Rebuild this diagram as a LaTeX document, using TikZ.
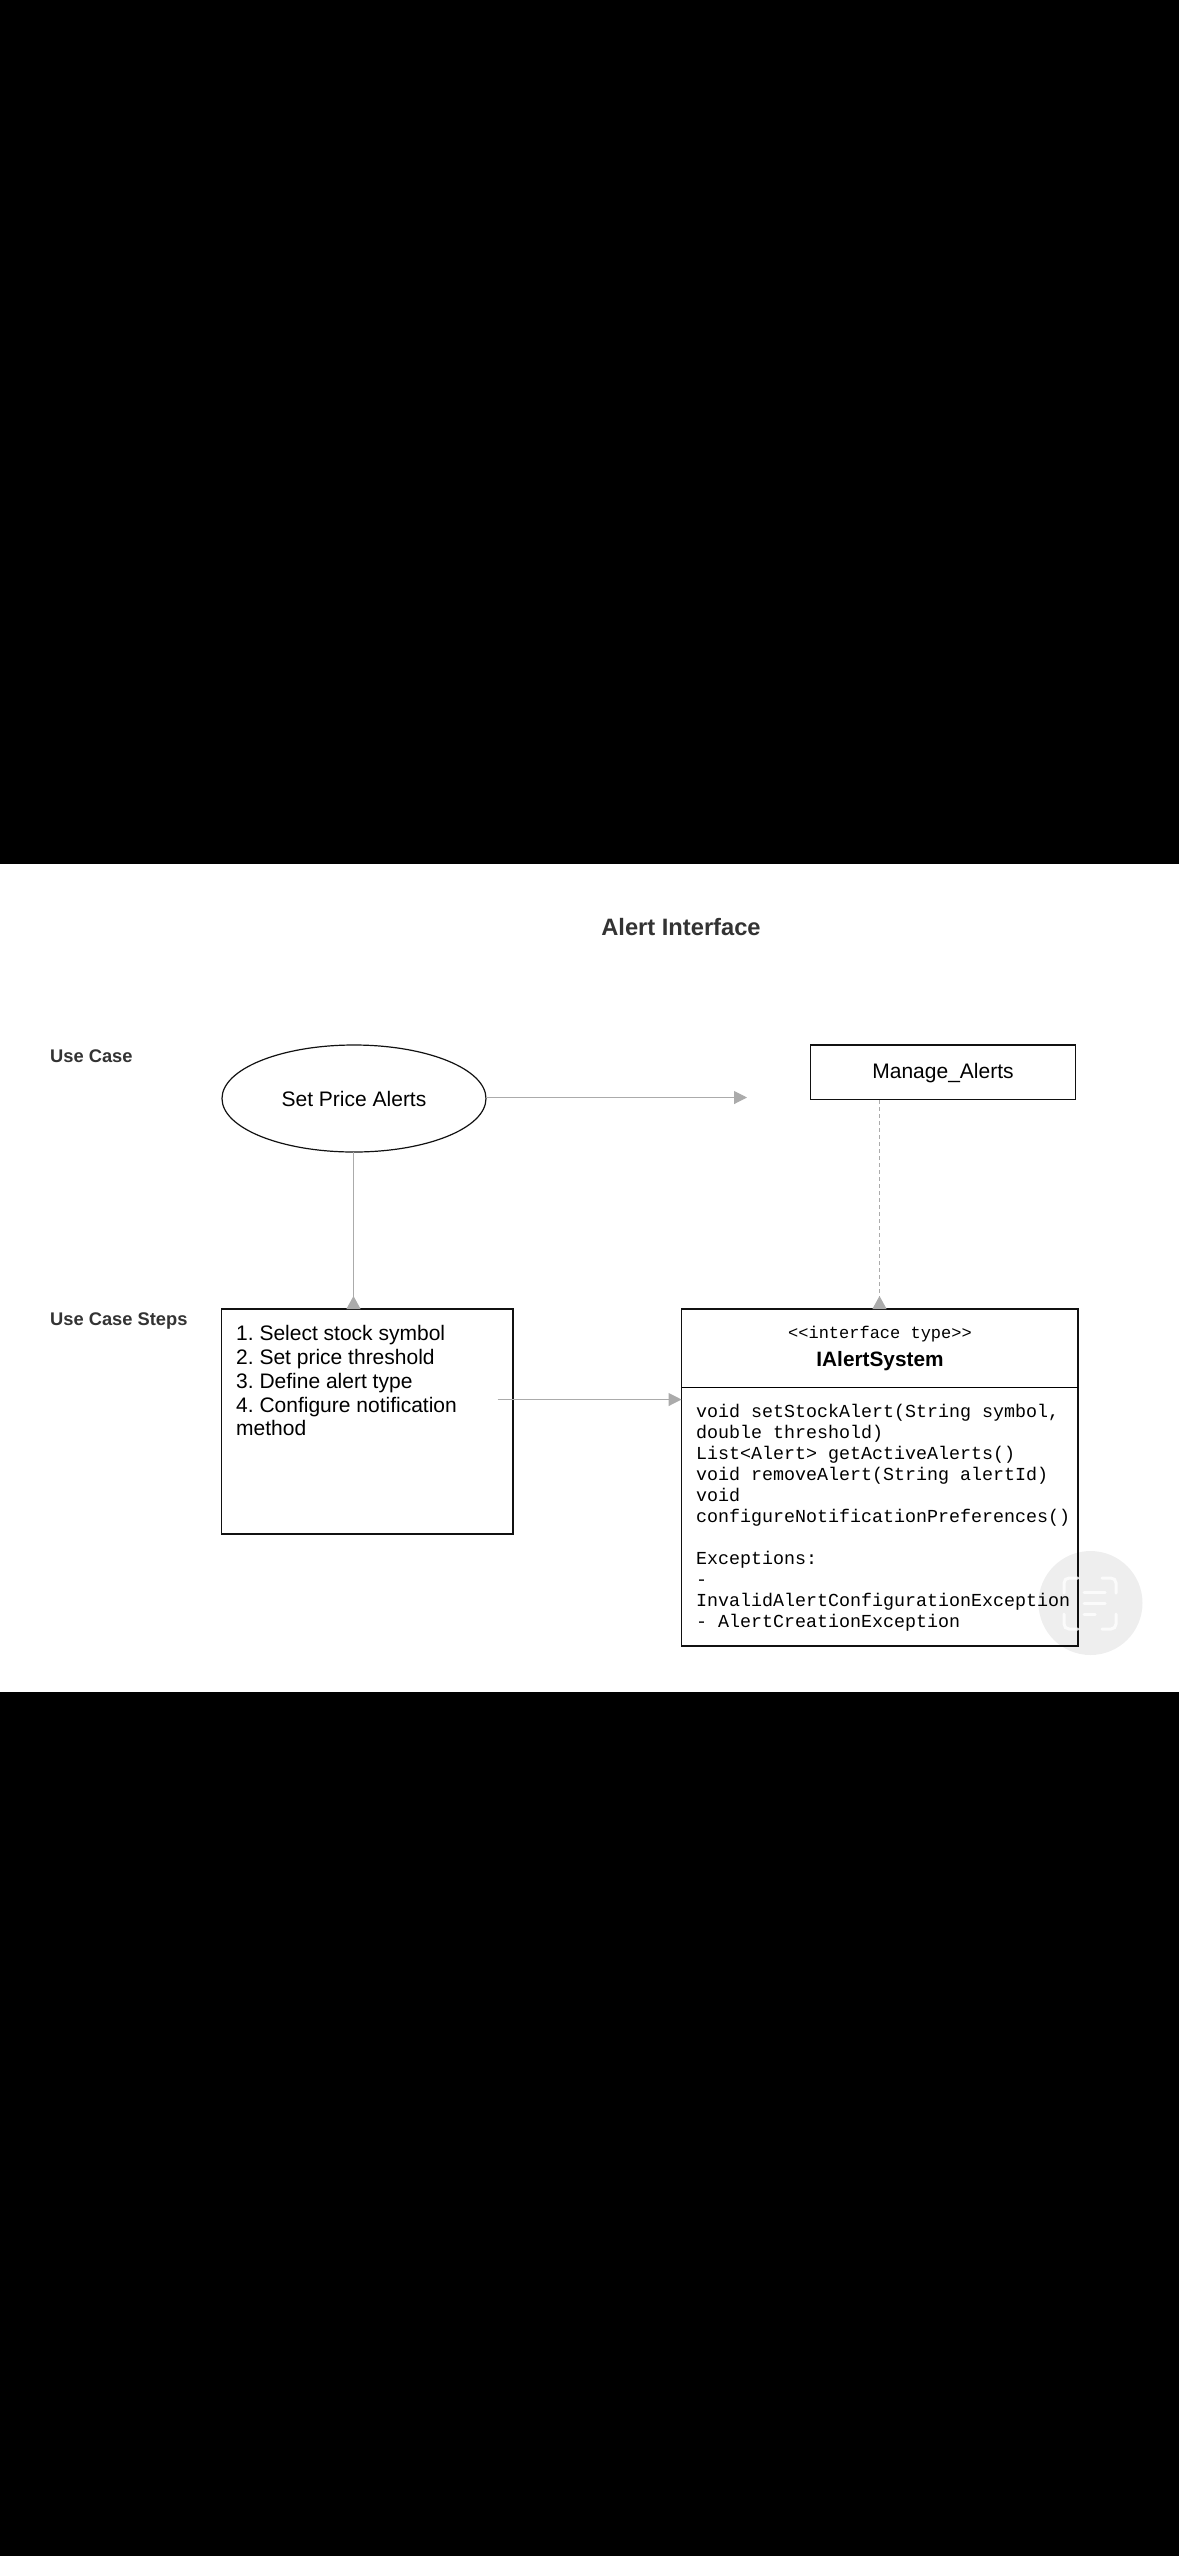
\documentclass[tikz,border=0pt]{standalone}
\usepackage{fontspec}
\setmainfont{Liberation Sans}
\setmonofont{Liberation Mono}
\usetikzlibrary{arrows.meta,shapes.geometric}
\definecolor{edgegrey}{HTML}{ABABAB}
\definecolor{labelgrey}{HTML}{333333}
\definecolor{outlinegrey}{HTML}{111111}
\tikzset{
  x=1pt,y=-1pt,
  outline/.style={draw=outlinegrey,line width=1.2pt,fill=white,inner sep=0pt,outer sep=0pt},
  boxshape/.style={outline,rectangle,anchor=north west},
  sanstext/.style={font=\fontsize{21}{23.7}\selectfont,text=black,inner sep=0pt},
  monotext/.style={font=\ttfamily\fontsize{18.33}{21}\selectfont,text=black,inner sep=0pt},
  sidelabel/.style={font=\bfseries\fontsize{18.3}{21}\selectfont,text=labelgrey,inner sep=0pt},
  conn/.style={draw=edgegrey,line width=1pt,-{Triangle[length=13pt,width=13pt,fill=edgegrey]}},
  connup/.style={draw=edgegrey,line width=1pt,-{Triangle[reversed,length=13pt,width=14pt,fill=edgegrey]}},
  conndash/.style={connup,dash pattern=on 4pt off 3pt},
}
\begin{document}
\frenchspacing
\begin{tikzpicture}
\useasboundingbox (0,0) rectangle (1179,2556);
\fill[black] (0,0) rectangle (1179,2556);
\fill[white] (0,864) rectangle (1179,1692);

\node[font=\bfseries\fontsize{23.7}{26}\selectfont,text=labelgrey,inner sep=0pt] (title) at (681,927) {Alert Interface};
\node[sidelabel,anchor=west] (lblcase) at (50,1056) {Use Case};
\node[sidelabel,anchor=west] (lblsteps) at (50,1320.5) {Use Case Steps};

\node[outline,ellipse,minimum width=264pt,minimum height=107pt,sanstext] (uc) at (354,1098.5) {Set Price Alerts};
\node[boxshape,minimum width=265pt,minimum height=54.5pt] (manage) at (810.5,1045) {};
\node[sanstext] (managetext) at (943,1073.5) {Manage\_Alerts};
\node[boxshape,minimum width=291.5pt,minimum height=225pt] (steps) at (221.5,1309) {};
\node[sanstext,anchor=north west,align=left] (stepstext) at (236,1325.5) {1. Select stock symbol\\2. Set price threshold\\3. Define alert type\\4. Configure notification\\method};
\node[boxshape,minimum width=396.5pt,minimum height=337pt] (iface) at (681.5,1309) {};
\coordinate (sepl) at (681.5,1387);
\coordinate (sepr) at (1078,1387);
\draw[black,line width=1pt] (sepl) -- (sepr);
\node[monotext,font=\ttfamily\fontsize{17}{20}\selectfont] (stereo) at (880,1334) {<{}<interface type>{}>};
\node[font=\bfseries\fontsize{20.8}{24}\selectfont,text=black,inner sep=0pt] (ifname) at (880,1361.5) {IAlertSystem};
\node[monotext,anchor=north west,align=left] (methods) at (696,1404) {void setStockAlert(String symbol,\\double threshold)\\List<Alert> getActiveAlerts()\\void removeAlert(String alertId)\\void\\configureNotificationPreferences()\\[21pt]Exceptions:\\-\\InvalidAlertConfigurationException\\- AlertCreationException};

\coordinate (arrowend) at (747,1097.5);
\coordinate (ucout) at (486,1097.5);
\coordinate (stepsout) at (497.5,1399.5);
\coordinate (ucdown) at (353.5,1152);
\draw[conn] (ucout) -- (arrowend);
\draw[connup] (ucdown) -- (ucdown |- steps.north);
\coordinate (manageout) at (879.5,1100);
\draw[conndash] (manageout) -- (manageout |- iface.north);
\draw[conn] (stepsout) -- (stepsout -| iface.west);

% watermark
\fill[black,opacity=0.065] (1090.5,1603) circle[radius=52];
\begin{scope}[draw=white,opacity=0.8,line width=3pt,line cap=round,rounded corners=5pt]
\draw (1064,1593) -- (1064,1578) -- (1078,1578);
\draw (1102,1578) -- (1116,1578) -- (1116,1593);
\draw (1116,1614) -- (1116,1629) -- (1102,1629);
\draw (1078,1629) -- (1064,1629) -- (1064,1614);
\draw (1084,1592) -- (1105,1592);
\draw (1084,1603) -- (1105,1603);
\draw (1084,1614) -- (1095,1614);
\end{scope}
\end{tikzpicture}
\end{document}
